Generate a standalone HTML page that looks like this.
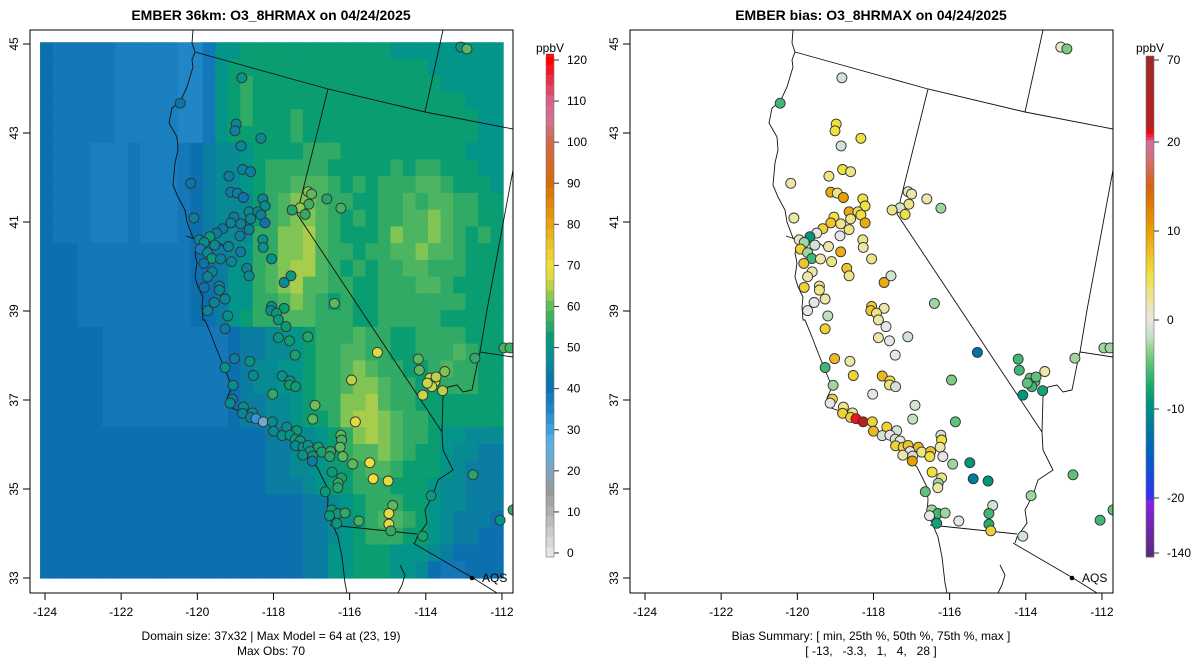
<!DOCTYPE html>
<html><head><meta charset="utf-8"><style>
body{margin:0;background:#fff;}
svg{display:block;font-family:"Liberation Sans",Arial,sans-serif;}
</style></head><body>
<svg id="chart" width="1200" height="672" viewBox="0 0 1200 672">
<defs>
<clipPath id="clipL"><rect x="30" y="30" width="483" height="563"/></clipPath>
<clipPath id="clipR"><rect x="630" y="30" width="483" height="563"/></clipPath>
</defs>
<text x="271" y="20" text-anchor="middle" font-size="14" font-weight="bold">EMBER 36km: O3_8HRMAX on 04/24/2025</text>
<text x="871" y="20" text-anchor="middle" font-size="14" font-weight="bold">EMBER bias: O3_8HRMAX on 04/24/2025</text>
<g id="leftPanel"></g>
<g id="rightPanel"></g>
<text x="271" y="640" text-anchor="middle" font-size="12">Domain size: 37x32 | Max Model = 64 at (23, 19)</text>
<text x="271" y="655" text-anchor="middle" font-size="12">Max Obs: 70</text>
<text x="871" y="640" text-anchor="middle" font-size="12">Bias Summary: [ min, 25th %, 50th %, 75th %, max ]</text>
<text x="871" y="655" text-anchor="middle" font-size="12" xml:space="preserve">[ -13,   -3.3,   1,   4,   28 ]</text>
</svg>
<script>
// ---- data ----
const lonTicks = [-124,-122,-120,-118,-116,-114,-112];
const latTicks = [33,35,37,39,41,43,45];
const valueTicks = [0,10,20,30,40,50,60,70,80,90,100,110,120];
const biasTicks = [-140,-20,-10,0,10,20,70];
const gridCodes = "0123456789ab";
const gridValues = [35,37,39,41,44,47,50,53,56,59,62,64];
const gridRows = [
"32222211111002"+"66777777777777666666666",
"32222211111002"+"67777777777777777666666",
"32222211111002"+"67877777777777777766666",
"32222211111002"+"67877777777777777777666",
"32222211111002"+"67877787777777777777766",
"32222211111002"+"67777787777777777777766",
"32221112111234"+"55677778887777777777666",
"32221112111234"+"55678888877777878877766",
"32221112111234"+"55678899987878889987776",
"32221112111234"+"55578"+"9aa9"+"8877"+"8898998"+"877",
"32221112111234"+"55578"+"9aa9"+"8787"+"8899a98"+"877",
"32221112111234"+"55588"+"aab9"+"8777"+"8a99a98"+"787",
"33322222222233"+"45688"+"aab9"+"8878"+"899a998"+"777",
"33322222222233"+"46689"+"abb9"+"8787"+"8899888"+"777",
"33322222222233"+"46689"+"ab99"+"8877"+"8889987"+"777",
"33322222222233"+"46688"+"9a98"+"7877"+"8888888"+"777",
"33322222222233"+"46788"+"9998"+"8877"+"8888877"+"777",
"33333222222222234"+"45667888988778888777",
"33333222222222234"+"45567889988778889877",
"33333222222222234"+"55667889a98877898877",
"33333222222222234"+"55667889aa9887788877",
"33333222222222234"+"4556788aab9887777777",
"33333222222222234"+"4556778abba988777777",
"33333333333333333344"+"55678aba988766555",
"33333333333333333344"+"5567899a987765544",
"33333333333333333344"+"55677899877765444",
"33333333333333333344"+"45677888777655444",
"33333333333333333333344"+"56788877655444",
"33333333333333333333344"+"56789987654443",
"33333333333333333333344"+"56788877654433",
"33333333333333333333344"+"66777666543333",
"33333333333333333333344"+"66777665322333"
];
const siteLon = [-118.83,-120.45,-118.98,-119.01,-118.33,-118.85,-118.81,-118.60,-119.17,-120.17,-119.12,-118.95,-118.79,-118.28,-118.22,-117.09,-117.00,-117.07,-117.30,-117.51,-117.17,-116.60,-116.23,-120.09,-118.64,-118.41,-118.33,-118.22,-119.04,-119.12,-118.86,-118.60,-119.33,-118.64,-119.49,-119.67,-118.88,-119.95,-119.82,-119.54,-119.18,-118.28,-118.27,-119.92,-119.73,-118.86,-119.62,-119.39,-119.10,-118.05,-119.83,-119.61,-119.73,-118.70,-118.64,-117.72,-117.54,-119.82,-119.42,-119.42,-119.27,-119.56,-119.73,-119.20,-118.05,-118.07,-117.72,-117.92,-116.40,-119.27,-117.87,-117.67,-117.87,-117.58,-117.10,-117.43,-115.27,-119.02,-118.62,-119.27,-118.53,-117.77,-117.57,-117.58,-117.42,-115.95,-119.06,-118.02,-119.08,-119.14,-114.20,-114.17,-113.89,-113.76,-113.84,-113.96,-113.73,-113.50,-114.08,-113.56,-116.91,-116.97,-115.85,-118.79,-118.81,-118.55,-118.60,-118.46,-118.27,-118.03,-118.00,-117.65,-117.39,-117.77,-117.57,-117.43,-117.30,-117.42,-117.22,-117.09,-116.82,-117.04,-117.23,-116.97,-116.73,-116.50,-116.52,-116.98,-116.23,-116.21,-116.25,-116.18,-115.92,-115.47,-116.46,-116.21,-116.30,-116.31,-115.38,-114.99,-116.64,-113.86,-114.87,-116.47,-116.31,-116.12,-116.53,-116.34,-115.76,-114.97,-114.97,-114.92,-114.08,-113.08,-112.92,-111.95,-111.79,-112.71,-112.76,-112.05,-111.71];
const siteLat = [44.24,43.67,43.20,43.05,42.88,42.71,42.18,42.13,42.03,41.87,41.67,41.65,41.55,41.52,41.36,41.68,41.63,41.40,41.32,41.27,41.17,41.52,41.31,41.09,41.23,41.23,41.16,40.98,41.11,40.98,40.96,41.07,40.85,40.83,40.75,40.67,40.69,40.60,40.54,40.48,40.45,40.60,40.43,40.39,40.31,40.33,40.18,40.17,40.11,40.17,40.07,39.88,39.77,39.96,39.79,39.64,39.79,39.53,39.56,39.47,39.27,39.19,39.01,38.89,39.10,39.01,39.06,38.95,39.17,38.60,38.80,38.65,38.40,38.33,38.42,38.01,38.07,37.93,37.87,37.73,37.55,37.54,37.43,37.34,37.30,37.45,37.33,37.13,37.02,36.93,37.92,37.67,37.49,37.41,37.30,37.38,37.52,37.64,37.11,37.21,36.88,36.57,36.51,36.84,36.70,36.71,36.61,36.58,36.51,36.51,36.30,36.39,36.31,36.20,36.21,36.12,36.08,35.97,35.94,35.98,35.94,35.84,35.76,35.74,35.83,35.84,35.73,35.63,36.21,36.10,35.94,35.73,35.56,35.59,35.38,35.25,35.13,35.03,35.23,35.18,34.94,34.85,34.63,34.53,34.45,34.46,34.40,34.23,34.28,34.45,34.21,34.06,33.94,44.93,44.89,38.17,38.17,37.94,35.32,34.30,34.53];
const siteObs = [50,42,46,45,48,46,45,45,44,42,44,44,40,47,48,62,60,58,63,55,56,55,58,44,47,47,45,42,44,45,45,46,43,46,44,52,45,46,48,47,46,50,50,38,48,44,52,46,46,50,42,46,46,46,47,48,52,42,46,46,47,46,46,49,50,49,53,52,60,44,52,53,51,53,55,54,67,44,50,50,48,50,51,53,53,65,48,56,44,48,60,60,66,66,66,66,65,62,66,65,61,60,68,48,46,48,45,32,22,48,47,48,52,50,50,52,52,48,50,50,54,52,50,52,54,56,55,44,60,58,60,60,60,70,52,54,56,55,70,68,52,52,60,53,52,56,52,52,58,68,68,56,54,52,60,58,58,56,55,50,56];
const siteBias = [-1,-6,5,5,5,-1,5,3,3,2,9,3,10,5,5,1,2,3,-1,3,5,2,-3,2,9,4,5,9,5,7,3,3,6,3,0,-9,0,1,-3,-1,2,3,2,6,-3,9,-6,2,3,3,7,2,2,7,3,9,-1,6,3,3,2,0,0,-2,6,7,2,3,-3,6,2,0,2,0,-1,0,-13,8,2,-6,6,8,5,3,-1,-4,-3,0,6,0,-6,-6,-5,-5,-6,-5,-5,2,-9,-8,-1,-2,-5,3,6,3,6,25,28,6,8,6,-1,-1,0,-1,0,6,6,7,8,0,2,-1,3,7,5,10,-1,5,2,0,-3,-9,5,3,-3,2,-12,-9,-5,-3,-1,-3,-6,-3,0,-8,0,-6,-7,6,-1,1,-4,-3,-3,-3,-5,-6,-5];

// ---- scales ----
const NS = "http://www.w3.org/2000/svg";
function xScale(lon, off){ return off + 45 + (lon + 124) * 38.08; }
function yScale(lat){ return 44 + (45 - lat) * 44.5; }
function lerpHex(a,b,t){
  const pa=[1,3,5].map(i=>parseInt(a.substr(i,2),16)), pb=[1,3,5].map(i=>parseInt(b.substr(i,2),16));
  return "rgb("+pa.map((v,i)=>Math.round(v+(pb[i]-v)*t)).join(",")+")";
}
function mapColor(stops, v){
  if (v <= stops[0][0]) return stops[0][1];
  for (let i=1;i<stops.length;i++){
    if (v <= stops[i][0]){ const t=(v-stops[i-1][0])/(stops[i][0]-stops[i-1][0]); return lerpHex(stops[i-1][1],stops[i][1],t); }
  }
  return stops[stops.length-1][1];
}
const valStops = [[0,"#e6e6e6"],[10,"#b0b0b0"],[15,"#999999"],[20,"#80a2bc"],[27,"#5ab2e6"],[31,"#3a9cdc"],[35,"#2086c6"],[37,"#1a7fbe"],[39,"#1377b8"],[41,"#0d70ae"],[44,"#0b7ca2"],[47,"#078a94"],[50,"#03948a"],[53,"#0a9d72"],[56,"#30aa64"],[59,"#4db461"],[62,"#80c455"],[64,"#a8cd4c"],[67,"#d8db45"],[70,"#f0de3a"],[75,"#ecc42a"],[80,"#e8a410"],[90,"#d86a08"],[100,"#d06848"],[106,"#cc7498"],[110,"#d86088"],[115,"#e8304c"],[120,"#ff0000"]];
const biasStops = [[-140,"#5a2a80"],[-25,"#8a20e0"],[-20,"#3030f0"],[-15,"#0062c0"],[-12,"#007a9e"],[-9,"#00967a"],[-7,"#22ae70"],[-4,"#7ccc80"],[-2,"#bfe0c0"],[0,"#e6e6e6"],[2,"#ece6a8"],[5,"#f0e040"],[8,"#ecb820"],[10,"#e8a000"],[15,"#d86010"],[18,"#d07070"],[20,"#d070a0"],[23,"#e03050"],[26,"#ff0000"],[28,"#b82020"],[70,"#a02828"]];
function biasY(b){
  const knotsV=[-140,-20,-10,0,10,20,70], knotsY=[553,498,409,320,231,142,60];
  for(let i=1;i<knotsV.length;i++){ if(b<=knotsV[i]){ const t=(b-knotsV[i-1])/(knotsV[i]-knotsV[i-1]); return knotsY[i-1]+(knotsY[i]-knotsY[i-1])*t; } }
  return 60;
}
function mk(tag, attrs, parent){ const e=document.createElementNS(NS,tag); for(const k in attrs) e.setAttribute(k,attrs[k]); parent.appendChild(e); return e; }

const coastD = "M193,30 L192,43 L195,52 L192,60 L193,67 L187,87 L180,102 L172,108 L169,123 L177,137 L178,150 L175,163 L173,185 L178,197 L185,210 L187,222 L190,230 L193,238 L198,243 L195,253 L197,263 L195,277 L198,287 L203,297 L202,307 L203,320 L205,320 L212,337 L217,350 L223,365 L228,377 L232,387 L227,398 L228,407 L243,412 L257,417 L270,425 L283,437 L297,443 L302,453 L308,458 L317,467 L322,477 L327,487 L328,500 L327,513 L332,523 L338,537 L342,557 L345,583 L347,593 M186,236 L198,240 L205,244 L215,241 L222,245 L226,250";
const borderD = "M195,52 L328,89 L425,112 L513,129 M443,30 L425,112 M328,89 L297,214 L442,432 L443,450 L453,470 L438,480 L433,495 L425,510 L427,523 L417,537 L415,543 M513,170 L487,310 L480,352 L513,357 M480,352 L478,360 L472,390 L463,392 L457,385 L448,387 L443,397 L442,432 M330,525 L417,534 M413,543 L473,578 L497,593 M400,565 L405,575 L402,585 L398,593";

function drawPanel(g, off, clipId, isBias){
  const pg = mk("g",{"clip-path":"url(#"+clipId+")"},g);
  if(!isBias){
    const rg = mk("g",{},pg);
    
    
    const lon0=-124.13, lon1=-111.97, lat0=45.04, lat1=33.0;
    const nr=gridRows.length, nc=37;
    for(let r=0;r<nr;r++){
      let s=gridRows[r]; while(s.length<nc) s+=s[s.length-1];
      for(let c=0;c<nc;c++){
        const v = gridValues[gridCodes.indexOf(s[c])];
        const la=lon0+(lon1-lon0)*c/nc, lb=lon0+(lon1-lon0)*(c+1)/nc;
        const ta=lat0+(lat1-lat0)*r/nr, tb=lat0+(lat1-lat0)*(r+1)/nr;
        const x0=xScale(la,off), x1=xScale(lb,off), y0=yScale(ta), y1=yScale(tb);
        const cell = mk("rect",{x:x0.toFixed(2),y:y0.toFixed(2),width:(x1-x0+0.6).toFixed(2),height:(y1-y0+0.6).toFixed(2),fill:mapColor(valStops,v)},rg);
        
        
      }
    }
  }
  const geo = mk("g",{transform:"translate("+off+",0)",fill:"none",stroke:"#111","stroke-width":"0.9"},pg);
  const coast = mk("path",{d:coastD},geo);
  
  
  const bord = mk("path",{d:borderD},geo);
  
  
  const sg = mk("g",{},pg);
  
  
  for(let i=0;i<siteLon.length;i++){
    const col = isBias ? mapColor(biasStops, siteBias[i]) : mapColor(valStops, siteObs[i]);
    const c = mk("circle",{cx:xScale(siteLon[i],off).toFixed(1),cy:yScale(siteLat[i]).toFixed(1),r:"5",fill:col,stroke:"#333","stroke-width":"0.9"},sg);
    
    
  }
  const aq = mk("circle",{cx:off+472,cy:578,r:"2.3",fill:"#000"},g);
  
  
  const at = mk("text",{x:off+482,y:582,"font-size":"12"},g); at.textContent="AQS";
  
  
  const box = mk("rect",{x:off+30,y:30,width:483,height:563,fill:"none",stroke:"#000","stroke-width":"1"},g);
  
  
  lonTicks.forEach(t=>{
    const x=xScale(t,off);
    const tk = mk("line",{x1:x,y1:593,x2:x,y2:600,stroke:"#000"},g);
    
    
    const tx = mk("text",{x:x,y:616,"text-anchor":"middle","font-size":"12"},g); tx.textContent=String(t);
    
    
  });
  latTicks.forEach(t=>{
    const y=yScale(t);
    const tk = mk("line",{x1:off+30,y1:y,x2:off+23,y2:y,stroke:"#000"},g);
    
    
    const tx = mk("text",{x:0,y:0,"text-anchor":"middle","font-size":"12",transform:"translate("+(off+18)+","+y+") rotate(-90)"},g); tx.textContent=String(t);
    
    
  });
  const cb = mk("g",{},g);
  
  
  const bx=off+546;
  if(!isBias){
    const cy = v => 553 - v*(493/120);
    for(let v=-1; v<121; v+=2.5){
      mk("rect",{x:bx,y:cy(v+2.5).toFixed(2),width:8,height:(cy(v)-cy(v+2.5)+0.5).toFixed(2),fill:mapColor(valStops,v+1.25)},cb);
    }
    mk("rect",{x:bx,y:56,width:8,height:501,fill:"none",stroke:"#777","stroke-width":"0.6"},cb);
    valueTicks.forEach(t=>{
      mk("line",{x1:bx+8,y1:cy(t),x2:bx+13,y2:cy(t),stroke:"#333"},cb);
      const tx=mk("text",{x:bx+21,y:cy(t)+4,"font-size":"12"},cb); tx.textContent=String(t);
      
      
    });
  } else {
    for(let y=56; y<557; y+=3){
      let lo=-140, hi=70;
      for(let k=0;k<30;k++){ const m=(lo+hi)/2; if(biasY(m) > y+1.5) lo=m; else hi=m; }
      mk("rect",{x:bx,y:y,width:8,height:3.5,fill:mapColor(biasStops,(lo+hi)/2)},cb);
    }
    mk("rect",{x:bx,y:56,width:8,height:501,fill:"none",stroke:"#777","stroke-width":"0.6"},cb);
    biasTicks.forEach(t=>{
      const y=biasY(t);
      mk("line",{x1:bx+8,y1:y,x2:bx+13,y2:y,stroke:"#333"},cb);
      const tx=mk("text",{x:bx+21,y:y+4,"font-size":"12"},cb); tx.textContent=String(t);
      
      
    });
  }
  const ul=mk("text",{x:bx+4,y:52,"text-anchor":"middle","font-size":"12"},cb); ul.textContent="ppbV";
  
  
}
drawPanel(document.getElementById("leftPanel"), 0, "clipL", false);
drawPanel(document.getElementById("rightPanel"), 600, "clipR", true);
</script>
</body></html>
